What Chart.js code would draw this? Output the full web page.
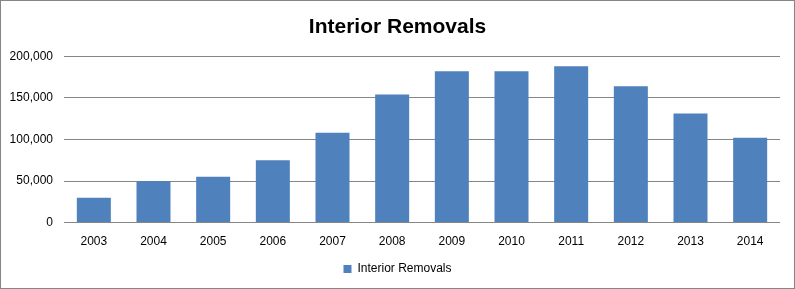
<!DOCTYPE html>
<html lang="en">
<head>
  <meta charset="UTF-8">
  <title>Interior Removals</title>
  <script src="https://cdn.jsdelivr.net/npm/chart.js"></script>
  <style>
    html, body { margin: 0; padding: 0; background: #fff; }
    .wrap { width: 795px; height: 289px; position: relative; }
  </style>
</head>
<body>
<div class="wrap">
  <canvas id="barChart" width="795" height="289"></canvas>
</div>

<script>
  // data
  var years = ['2003', '2004', '2005', '2006', '2007', '2008', '2009', '2010', '2011', '2012', '2013', '2014'];
  var removals = [30000, 50000, 55000, 75000, 108000, 154000, 182000, 182000, 188000, 164000, 131000, 102000];
  var seriesName = 'Interior Removals';
  var chartTitle = 'Interior Removals';

  // outer grey frame like the spreadsheet chart
  var frame = {
    id: 'frame',
    afterDraw: function(chart) {
      var c = chart.ctx;
      c.save();
      c.strokeStyle = '#868686';
      c.lineWidth = 1;
      c.strokeRect(0.5, 0.5, chart.width - 1, chart.height - 1);
      c.restore();
    }
  };

  var ctx = document.getElementById('barChart').getContext('2d');
  var barChart = new Chart(ctx, {
    type: 'bar',
    data: {
      labels: years,
      datasets: [{
        label: seriesName,
        data: removals,
        backgroundColor: '#4F81BD',
        borderWidth: 0,
        categoryPercentage: 1,
        barPercentage: 0.57
      }]
    },
    options: {
      responsive: false,
      animation: false,
      layout: { padding: { left: 0, right: 0, top: 15, bottom: 4 } },
      plugins: {
        title: {
          display: true,
          text: chartTitle,
          color: '#000',
          font: { family: 'Liberation Sans', size: 21, weight: 'bold' },
          padding: { top: 0, bottom: 16 }
        },
        legend: {
          position: 'bottom',
          labels: {
            color: '#000',
            boxWidth: 8,
            boxHeight: 8,
            padding: 5,
            font: { family: 'Liberation Sans', size: 12 }
          }
        },
        tooltip: { enabled: false }
      },
      scales: {
        x: {
          grid: { display: false },
          border: { display: false },
          ticks: {
            color: '#000',
            padding: 4,
            font: { family: 'Liberation Sans', size: 12 }
          },
          afterFit: function(scale) { scale.height += 5; }
        },
        y: {
          min: 0,
          max: 200000,
          grid: { color: '#868686', drawTicks: false },
          border: { display: false },
          ticks: {
            stepSize: 50000,
            color: '#000',
            padding: 11,
            font: { family: 'Liberation Sans', size: 12 },
            callback: function(v) { return v.toLocaleString('en-US'); }
          },
          afterFit: function(scale) { scale.width = 64; }
        },
        // empty right-hand strip so the plot stops short of the frame
        gap: {
          position: 'right',
          grid: { display: false },
          border: { display: false },
          ticks: { display: false },
          afterFit: function(scale) { scale.width = 15; }
        }
      }
    },
    plugins: [frame]
  });
</script>
</body>
</html>
